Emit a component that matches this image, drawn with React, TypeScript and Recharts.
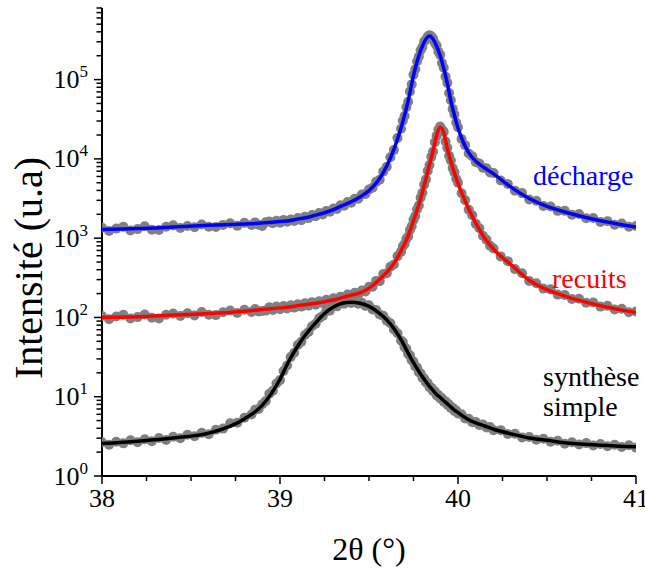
import * as React from 'react';
import { ComposedChart, Line, XAxis, YAxis, ReferenceLine } from 'recharts';

// measured scan positions (2θ, degrees)
const twoTheta = [
  38.0, 38.04, 38.08, 38.12, 38.16, 38.2, 38.24, 38.28, 38.32, 38.36, 38.4, 38.44, 38.48, 38.52, 38.56, 38.6,
  38.64, 38.68, 38.72, 38.76, 38.8, 38.84,
  38.86, 38.88, 38.9, 38.92, 38.94, 38.96, 38.98, 39.0, 39.02, 39.04, 39.06, 39.08, 39.1, 39.12, 39.14, 39.16,
  39.18, 39.2, 39.22, 39.24, 39.26, 39.28, 39.3, 39.32, 39.34, 39.36, 39.38, 39.4, 39.42, 39.44, 39.46, 39.48,
  39.5, 39.52, 39.54, 39.56, 39.58, 39.6, 39.62, 39.64, 39.66, 39.68,
  39.69, 39.7, 39.71, 39.72, 39.73, 39.74, 39.75, 39.76, 39.77, 39.78, 39.79, 39.8, 39.81, 39.82, 39.83, 39.84,
  39.85, 39.86, 39.87, 39.88, 39.89, 39.9, 39.91, 39.92, 39.93, 39.94, 39.95, 39.96, 39.97, 39.98, 39.99, 40.0,
  40.02, 40.04, 40.06, 40.08, 40.1, 40.12, 40.14, 40.16, 40.18, 40.2,
  40.24, 40.28, 40.32, 40.36, 40.4, 40.44, 40.48, 40.52, 40.56, 40.6, 40.64, 40.68, 40.72, 40.76, 40.8, 40.84,
  40.88, 40.92, 40.96, 41.0,
];

// measured intensities (grey dots)
const dechargeObs = [
  1350, 1230, 1320, 1390, 1250, 1300, 1410, 1280, 1270, 1390, 1450, 1340, 1420, 1370, 1490, 1390,
  1380, 1470, 1540, 1430, 1560, 1470,
  1580, 1480, 1420, 1590, 1620, 1540, 1660, 1570, 1700, 1610, 1720, 1650, 1800, 1690, 1860, 1790,
  1960, 1890, 2080, 1990, 2200, 2150, 2370, 2330, 2600, 2560, 2850, 2800, 3150, 3140, 3560, 3600,
  4100, 4330, 5130, 5450, 6900, 7950, 10500, 12900, 18300, 24000,
  30200, 34700, 44800, 52500, 70800, 87000, 115000, 135000, 170000, 195000, 234000, 257000, 302000, 318000, 350000, 362000,
  352000, 330000, 290000, 268000, 224000, 205000, 162000, 141000, 109000, 91000, 67600, 55000, 42700, 36300, 28800, 25100,
  17800, 14900, 11700, 10800, 9100, 8750, 7750, 7620, 6750, 6650,
  5350, 4820, 3960, 3700, 3080, 2970, 2550, 2510, 2210, 2210, 1980, 2020, 1780, 1800, 1600, 1640,
  1480, 1530, 1390, 1420,
];

const recuitsObs = [
  104, 95, 103, 108, 97, 101, 109, 99, 97, 108, 112, 104, 113, 106, 117, 108,
  107, 116, 122, 114, 125, 117,
  128, 119, 121, 122, 134, 124, 137, 127, 139, 130, 142, 133, 147, 137, 151, 141,
  156, 145, 160, 151, 167, 157, 174, 164, 183, 173, 194, 184, 205, 194, 218, 212,
  244, 244, 289, 287, 352, 360, 437, 466, 594, 676,
  790, 845, 980, 1050, 1270, 1410, 1700, 1900, 2310, 2580, 3230, 3730, 4730, 5510, 7080, 8350,
  10600, 12350, 16200, 19500, 23400, 25600, 23500, 21900, 16600, 13800, 10950, 9550, 7680, 6760, 5560, 5010,
  3690, 3020, 2290, 1950, 1515, 1330, 1075, 957, 804, 741,
  589, 513, 407, 360, 288, 270, 231, 226, 194, 192, 171, 172, 153, 154, 137, 140,
  126, 129, 116, 119,
];

const syntheseObs = [
  2.66, 2.48, 2.71, 2.58, 2.82, 2.66, 2.9, 2.74, 3.02, 2.85, 3.13, 2.99, 3.31, 3.18, 3.5, 3.37,
  3.84, 3.96, 4.62, 4.69, 5.42, 5.98,
  6.85, 7.02, 8.02, 8.8, 10.9, 11.9, 14.7, 16.2, 21.1, 24.8, 31.6, 35.8, 44.9, 49.4, 60.2, 65.4,
  77.6, 83.2, 97.6, 104, 120, 122, 139, 138, 152, 149, 158, 152, 157, 149, 153, 140,
  142, 126, 124, 109, 105, 91.0, 84.5, 70.6, 63.3, 51.2,
  48.9, 42.1, 40.2, 34.6, 33.2, 28.8, 27.6, 24.1, 23.4, 20.4, 19.8, 17.4, 17.0, 15.1, 14.9, 13.2,
  13.0, 11.7, 11.7, 10.4, 10.5, 9.52, 9.57, 8.68, 8.73, 7.92, 7.96, 7.22, 7.26, 6.59, 6.7, 6.15,
  6.01, 5.31, 5.27, 4.77, 4.81, 4.39, 4.47, 4.08, 4.15, 3.79,
  3.79, 3.38, 3.41, 3.07, 3.11, 2.86, 2.95, 2.7, 2.78, 2.56, 2.67, 2.49, 2.6, 2.42, 2.53, 2.37,
  2.48, 2.33, 2.44, 2.28,
];

// fitted profiles
const fitTheta = [
  38.0, 38.2, 38.4, 38.6, 38.8, 38.9, 39.0, 39.05, 39.1, 39.15, 39.2, 39.25, 39.3, 39.35, 39.4, 39.45,
  39.5, 39.55, 39.6, 39.64, 39.68, 39.72, 39.75, 39.78, 39.8, 39.82, 39.84, 39.86, 39.88, 39.9, 39.92, 39.94,
  39.96, 39.98, 40.0, 40.03, 40.06, 40.1, 40.15, 40.2, 40.3, 40.4, 40.5, 40.6, 40.8, 41.0,
];

const dechargeFit = [
  1290, 1320, 1380, 1450, 1510, 1550, 1620, 1660, 1740, 1820, 1950, 2090, 2290, 2570, 2880, 3310,
  3980, 5250, 8130, 13200, 24500, 53700, 112000, 200000, 263000, 324000, 355000, 324000, 263000, 200000, 138000, 89100,
  53700, 35500, 24500, 16200, 12000, 9330, 7680, 6460, 4370, 3160, 2510, 2140, 1660, 1380,
];

const recuitsFit = [
  100, 102, 107, 112, 120, 126, 132, 135, 141, 146, 151, 158, 166, 178, 191, 204,
  234, 288, 372, 479, 692, 1070, 1660, 2630, 3800, 5620, 8510, 12600, 20000, 25100, 21400, 13500,
  9330, 6610, 4900, 3310, 2340, 1550, 1000, 724, 457, 295, 224, 186, 141, 115,
];

const syntheseFit = [
  2.57, 2.75, 3.02, 3.47, 5.25, 7.76, 16.6, 28.2, 43.7, 63.1, 85.1, 112, 135, 151, 155, 151,
  138, 117, 93.3, 72.4, 52.5, 35.5, 26.9, 20.9, 17.8, 15.5, 13.5, 12.0, 10.7, 9.77, 8.91, 8.13,
  7.41, 6.76, 6.31, 5.62, 5.13, 4.68, 4.27, 3.89, 3.39, 3.02, 2.82, 2.63, 2.45, 2.34,
];

const xTicks = [38, 39, 40, 41];
const xAllTicks = [38, 38.25, 38.5, 38.75, 39, 39.25, 39.5, 39.75, 40, 40.25, 40.5, 40.75, 41];
const yTicks = [1, 10, 100, 1000, 10000, 100000];
const yMinorTicks = [
  2, 3, 4, 5, 6, 7, 8, 9,
  20, 30, 40, 50, 60, 70, 80, 90,
  200, 300, 400, 500, 600, 700, 800, 900,
  2000, 3000, 4000, 5000, 6000, 7000, 8000, 9000,
  20000, 30000, 40000, 50000, 60000, 70000, 80000, 90000,
  200000, 300000, 400000, 500000, 600000, 700000, 800000,
];

const FONT = 'Liberation Serif';
const X_DOMAIN: [number, number] = [38, 41];
const Y_DOMAIN: [number, number] = [1, 800000];
const TICK = 8;
const MARGIN = 6;

const toPts = (xs: number[], ys: number[]) => xs.map((x, i) => ({ x, y: ys[i] }));

const series = [
  { name: 'décharge', obs: dechargeObs, fit: dechargeFit, color: '#0000ff' },
  { name: 'recuits', obs: recuitsObs, fit: recuitsFit, color: '#ff0000' },
  { name: 'synthèse simple', obs: syntheseObs, fit: syntheseFit, color: '#000000' },
];

const greyDot = (p: any) => (
  <circle key={`d-${p.index}`} cx={p.cx} cy={p.cy} r={5} fill="#808080" stroke="none" />
);

function YTick(props: any) {
  const { x, y, payload } = props;
  return (
    <text x={x} y={y + 8.5} textAnchor="end" fontFamily={FONT} fontSize={26} fill="#000">
      10
      <tspan dy={-11} fontSize={17}>
        {Math.round(Math.log10(payload.value))}
      </tspan>
    </text>
  );
}

// x ticks: major ones get a label, quarter-degree ones are shorter
function XTick(props: any) {
  const { x, y, payload } = props;
  const major = xTicks.includes(payload.value);
  const ay = y - TICK - MARGIN;
  return (
    <g>
      <line x1={x} x2={x} y1={ay} y2={ay + (major ? TICK : 5)} stroke="#000" strokeWidth={1.5} />
      {major && (
        <text x={x} y={y + 17} textAnchor="middle" fontFamily={FONT} fontSize={26} fill="#000">
          {payload.value}
        </text>
      )}
    </g>
  );
}

export default function App() {
  const axisLine = { stroke: '#000', strokeWidth: 2 };
  const tickLine = { stroke: '#000', strokeWidth: 1.5 };

  return (
    <div style={{ position: 'absolute', left: 0, top: 0, width: 645, height: 569, background: '#fff' }}>
      <ComposedChart width={645} height={569} margin={{ top: 8, right: 9, bottom: 43, left: 42 }}>
        <XAxis
          dataKey="x"
          type="number"
          domain={X_DOMAIN}
          ticks={xAllTicks}
          interval={0}
          allowDataOverflow
          height={50}
          tickSize={TICK}
          tickMargin={MARGIN}
          axisLine={axisLine}
          tickLine={false}
          tick={<XTick />}
        />
        <YAxis
          dataKey="y"
          type="number"
          scale="log"
          domain={Y_DOMAIN}
          ticks={yTicks}
          interval={0}
          allowDataOverflow
          width={60}
          tickSize={TICK}
          tickMargin={MARGIN}
          axisLine={axisLine}
          tickLine={tickLine}
          tick={<YTick />}
        />
        {/* minor log ticks just left of the y axis */}
        {yMinorTicks.map((v) => (
          <ReferenceLine
            key={`ym-${v}`}
            segment={[
              { x: 37.969, y: v },
              { x: 38, y: v },
            ]}
            stroke="#000"
            strokeWidth={1.5}
            ifOverflow="visible"
          />
        ))}
        {series.map((s) => (
          <Line
            key={s.name + '-obs'}
            data={toPts(twoTheta, s.obs)}
            dataKey="y"
            stroke="none"
            dot={greyDot}
            activeDot={false}
            isAnimationActive={false}
          />
        ))}
        {series.map((s) => (
          <Line
            key={s.name + '-fit'}
            data={toPts(fitTheta, s.fit)}
            dataKey="y"
            type="monotone"
            stroke={s.color}
            strokeWidth={3.5}
            dot={false}
            activeDot={false}
            zIndex={900}
            isAnimationActive={false}
          />
        ))}
      </ComposedChart>
      <svg
        width={645}
        height={569}
        fontFamily={FONT}
        style={{ position: 'absolute', left: 0, top: 0, pointerEvents: 'none' }}
      >
        <text transform="translate(42,268) rotate(-90)" textAnchor="middle" fontSize={40} fill="#000">
          Intensité (u.a)
        </text>
        <text x={369} y={560} textAnchor="middle" fontSize={32} fill="#000">
          2θ (°)
        </text>
        <text x={533} y={185} fontSize={28} fill="#0000ff">
          décharge
        </text>
        <text x={552} y={288} fontSize={28} fill="#ff0000">
          recuits
        </text>
        <text x={543} y={386} fontSize={28} fill="#000">
          synthèse
        </text>
        <text x={543} y={416} fontSize={28} fill="#000">
          simple
        </text>
      </svg>
    </div>
  );
}
